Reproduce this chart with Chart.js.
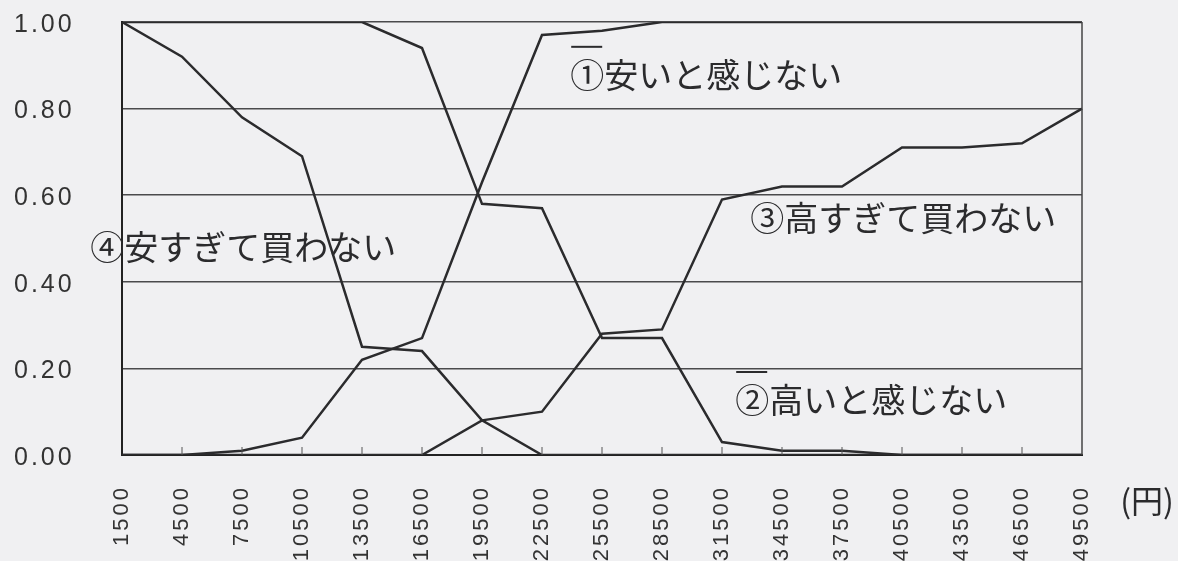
<!DOCTYPE html>
<html lang="ja">
<head>
  <meta charset="UTF-8" />
  <title>価格感度分析</title>
  <script src="https://cdn.jsdelivr.net/npm/chart.js"></script>
  <style>
    html, body {
      margin: 0;
      padding: 0;
      background: #f0f0f2;
    }
    #wrap {
      width: 1178px;
      height: 561px;
      position: relative;
    }
  </style>
</head>
<body>
  <div id="wrap"><canvas id="psm"></canvas></div>
  <script>
    // price points (円)
    const prices = ['1500', '4500', '7500', '10500', '13500', '16500', '19500', '22500', '25500',
      '28500', '31500', '34500', '37500', '40500', '43500', '46500', '49500'];

    // ① 安いと感じない
    const notCheap = [0, 0, 0.01, 0.04, 0.22, 0.27, 0.63, 0.97, 0.98, 1, 1, 1, 1, 1, 1, 1, 1];
    // ② 高いと感じない
    const notExpensive = [1, 1, 1, 1, 1, 0.94, 0.58, 0.57, 0.27, 0.27, 0.03, 0.01, 0.01, 0, 0, 0, 0];
    // ③ 高すぎて買わない
    const tooExpensive = [0, 0, 0, 0, 0, 0, 0.08, 0.10, 0.28, 0.29, 0.59, 0.62, 0.62, 0.71, 0.71, 0.72, 0.80];
    // ④ 安すぎて買わない
    const tooCheap = [1, 0.92, 0.78, 0.69, 0.25, 0.24, 0.08, 0, 0, 0, 0, 0, 0, 0, 0, 0, 0];

    const yTicks = [0, 0.2, 0.4, 0.6, 0.8, 1.0];

    // text labels: [text, x (category index), y (value), overbar]
    const seriesLabels = [
      ['①安いと感じない', 7.47, 0.878, true],
      ['②高いと感じない', 10.22, 0.127, true],
      ['③高すぎて買わない', 10.47, 0.547, false],
      ['④安すぎて買わない', -0.53, 0.48, false]
    ];
    const unitLabel = '(円)';

    const ink = '#2b2b2d';

    const spacingPlugin = {
      id: 'spacing',
      beforeDraw(chart) {
        chart.ctx.letterSpacing = '3px';
      }
    };

    const framePlugin = {
      id: 'frame',
      afterDraw(chart) {
        const ctx = chart.ctx;
        const area = chart.chartArea;
        const x = chart.scales.x;
        const y = chart.scales.y;
        ctx.save();
        ctx.letterSpacing = '0px';
        // right border
        ctx.strokeStyle = '#444';
        ctx.lineWidth = 1.5;
        ctx.beginPath();
        ctx.moveTo(area.right, area.top);
        ctx.lineTo(area.right, area.bottom);
        ctx.stroke();
        // inner tick marks on x axis
        ctx.lineWidth = 1;
        ctx.strokeStyle = '#555';
        for (let i = 1; i < prices.length - 1; i++) {
          const px = x.getPixelForTick(i);
          ctx.beginPath();
          ctx.moveTo(px, area.bottom);
          ctx.lineTo(px, area.bottom - 8);
          ctx.stroke();
        }
        // series labels
        ctx.fillStyle = ink;
        ctx.strokeStyle = ink;
        ctx.font = '34px "Noto Sans CJK JP", sans-serif';
        ctx.textBaseline = 'middle';
        ctx.textAlign = 'left';
        seriesLabels.forEach(([text, xi, yv, bar]) => {
          const px = x.getPixelForValue(xi);
          const py = y.getPixelForValue(yv);
          ctx.fillText(text, px, py);
          if (bar) {
            ctx.lineWidth = 2;
            ctx.beginPath();
            ctx.moveTo(px + 1, py - 28);
            ctx.lineTo(px + 32, py - 28);
            ctx.stroke();
          }
        });
        // unit
        ctx.font = '32px "Noto Sans CJK JP", sans-serif';
        ctx.textAlign = 'center';
        ctx.fillText(unitLabel, area.right + 65, area.bottom + 46);
        ctx.restore();
      }
    };

    new Chart(document.getElementById('psm'), {
      type: 'line',
      data: {
        labels: prices,
        datasets: [
          { label: '①安いと感じない', data: notCheap },
          { label: '②高いと感じない', data: notExpensive },
          { label: '③高すぎて買わない', data: tooExpensive },
          { label: '④安すぎて買わない', data: tooCheap }
        ].map(d => ({
          ...d,
          borderColor: ink,
          borderWidth: 2.5,
          pointRadius: 0,
          tension: 0,
          fill: false
        }))
      },
      options: {
        responsive: true,
        maintainAspectRatio: false,
        animation: false,
        layout: { padding: { top: 22, right: 96, left: 14, bottom: 0 } },
        plugins: {
          legend: { display: false },
          tooltip: { enabled: false }
        },
        scales: {
          x: {
            offset: false,
            grid: { display: false, drawTicks: false },
            border: { display: true, color: '#222', width: 2 },
            ticks: {
              color: '#333',
              font: { family: 'Liberation Sans', size: 22 },
              minRotation: 90,
              maxRotation: 90,
              autoSkip: false,
              padding: 30
            },
            afterFit(scale) { scale.height = 106; }
          },
          y: {
            min: 0,
            max: 1,
            afterBuildTicks(scale) {
              scale.ticks = yTicks.map(v => ({ value: v }));
            },
            grid: { color: '#4a4a4c', lineWidth: 1.5, drawTicks: false },
            border: { display: true, color: '#222', width: 2 },
            ticks: {
              color: '#333',
              font: { family: 'Liberation Sans', size: 25 },
              padding: 0,
              labelOffset: 3,
              crossAlign: 'far',
              callback: v => Number(v).toFixed(2)
            },
            afterFit(scale) { scale.width = 108; }
          }
        }
      },
      plugins: [spacingPlugin, framePlugin]
    });
  </script>
</body>
</html>
